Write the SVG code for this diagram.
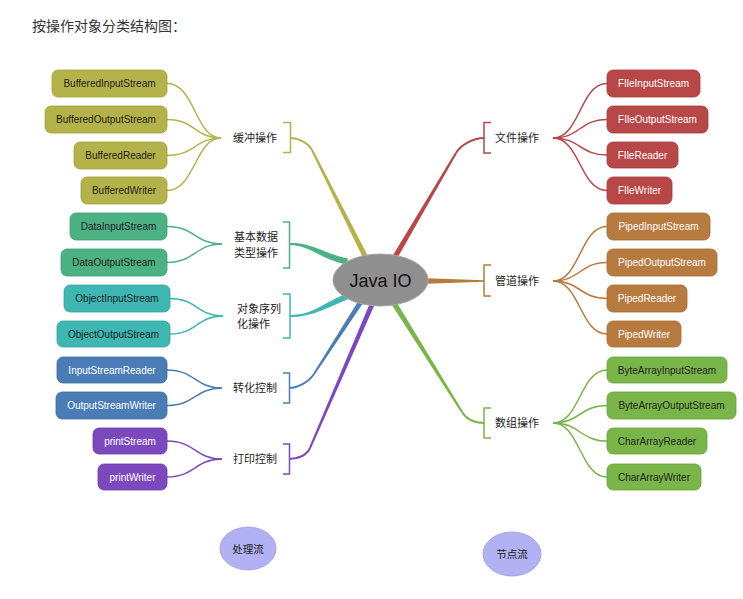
<svg xmlns="http://www.w3.org/2000/svg" width="743" height="599" viewBox="0 0 743 599">
<style>
.box{stroke-width:0.8}
.bt{font-family:"Liberation Sans",Arial,sans-serif;font-size:10px;text-anchor:middle}
.dk{fill:#1f1f1f}
.wt{fill:#ffffff}
.lb{font-family:"Noto Sans CJK SC","Liberation Sans",sans-serif;font-size:11px;fill:#222}
.thin{fill:none;stroke-width:1.5}
.br{fill:none;stroke-width:1.5}
.cv{fill:none;stroke-width:2}
.ol{fill:#b4b34a;stroke:#a3a23e}
.gr{fill:#4cb183;stroke:#3f9f73}
.tl{fill:#3eb6b1;stroke:#35a39e}
.bl{fill:#4a7cb5;stroke:#3f6da2}
.pu{fill:#7c48bd;stroke:#6c3ba9}
.rd{fill:#b84747;stroke:#a63c3c}
.bn{fill:#b77a3f;stroke:#a56c34}
.lg{fill:#79b548;stroke:#69a23c}
</style>
<rect width="743" height="599" fill="#ffffff"/>
<text x="32" y="31" font-family="Noto Sans CJK SC,Liberation Sans,sans-serif" font-size="14" fill="#333">按操作对象分类结构图：</text>

<g id="connectors">
  <!-- main branches -->
  <g id="branch-buffered">
    <path d="M370.4,260.8 L312.9,149.6 L311.1,150.4 L365.6,263.2 Z" fill="#b4b34a"/>
    <path class="cv" d="M312,150 C308.4,142.8 298,138 291,138" stroke="#b4b34a"/>
  </g>
  <g id="branch-file">
    <path d="M394.3,263.4 L456.9,153.5 L455.1,152.5 L389.7,260.6 Z" fill="#b84747"/>
    <path class="cv" d="M456,153 C460,146 472,138 484,138" stroke="#b84747"/>
  </g>
  <g id="branch-data">
    <path d="M289,243 C312,242 322,253 348,258.5 L346,264.5 C320,259 310,245 289,245 Z" fill="#4cb183"/>
  </g>
  <g id="branch-object">
    <path d="M290,315 C312,315 322,304 345,294 L347.5,299.5 C324,309 312,317 290,317 Z" fill="#3eb6b1"/>
  </g>
  <g id="branch-convert">
    <path d="M364.1,301.4 L314.8,374.5 L313.2,373.5 L359.9,298.6 Z" fill="#4a7cb5"/>
    <path class="cv" d="M314,374 C309.1,381.6 298,388 289,388" stroke="#4a7cb5"/>
  </g>
  <g id="branch-print">
    <path d="M376.3,301 L310.9,448.4 L309.1,447.6 L371.7,299 Z" fill="#7c48bd"/>
    <path class="cv" d="M310,448 C306.8,455.3 298,459 289,459" stroke="#7c48bd"/>
  </g>
  <g id="branch-array">
    <path d="M394.3,298.6 L462.9,411.5 L461.1,412.5 L389.7,301.4 Z" fill="#79b548"/>
    <path class="cv" d="M462,412 C466.2,418.8 474,423 484,423" stroke="#79b548"/>
  </g>
  <g id="branch-piped">
    <path d="M420,278 L484,280.3 L484,281.7 L420,284 Z" fill="#b77a3f"/>
  </g>

  <!-- brackets -->
  <path class="br" d="M283,122.5 H290.5 V152.5 H283" stroke="#b4b34a"/>
  <path class="br" d="M283,222 H289.5 V268 H283" stroke="#4cb183"/>
  <path class="br" d="M283,294 H290 V338 H283" stroke="#3eb6b1"/>
  <path class="br" d="M283,373 H289.5 V403 H283" stroke="#4a7cb5"/>
  <path class="br" d="M283,444 H289.5 V474 H283" stroke="#7c48bd"/>
  <path class="br" d="M491,122.5 H484 V153 H491" stroke="#b84747"/>
  <path class="br" d="M491,265 H484 V296 H491" stroke="#b77a3f"/>
  <path class="br" d="M491,408 H484 V438 H491" stroke="#79b548"/>

  <!-- thin connectors left -->
  <g stroke="#b4b34a" class="thin">
    <path class="thin" d="M167,83.5 C195,83.5 195,138 221,138"/>
    <path class="thin" d="M167,119.5 C195,119.5 195,138 221,138"/>
    <path class="thin" d="M167,155.5 C195,155.5 195,138 221,138"/>
    <path class="thin" d="M167,190.5 C195,190.5 195,138 221,138"/>
  </g>
  <g stroke="#4cb183">
    <path class="thin" d="M167,226.5 C195,226.5 195,244 222,244"/>
    <path class="thin" d="M167,262.5 C195,262.5 195,244 222,244"/>
  </g>
  <g stroke="#3eb6b1">
    <path class="thin" d="M170,298.5 C197,298.5 197,316 223,316"/>
    <path class="thin" d="M170,334 C197,334 197,316 223,316"/>
  </g>
  <g stroke="#4a7cb5">
    <path class="thin" d="M167,370 C195,370 195,388 222,388"/>
    <path class="thin" d="M167,405.5 C195,405.5 195,388 222,388"/>
  </g>
  <g stroke="#7c48bd">
    <path class="thin" d="M167,441 C195,441 195,459 222,459"/>
    <path class="thin" d="M167,477 C195,477 195,459 222,459"/>
  </g>
  <!-- thin connectors right -->
  <g stroke="#b84747">
    <path class="thin" d="M553,138 C580,138 580,83.5 607,83.5"/>
    <path class="thin" d="M553,138 C580,138 580,119.5 607,119.5"/>
    <path class="thin" d="M553,138 C580,138 580,155 607,155"/>
    <path class="thin" d="M553,138 C580,138 580,190.5 607,190.5"/>
  </g>
  <g stroke="#b77a3f">
    <path class="thin" d="M553,281 C580,281 580,226.5 607,226.5"/>
    <path class="thin" d="M553,281 C580,281 580,262.5 607,262.5"/>
    <path class="thin" d="M553,281 C580,281 580,298.5 607,298.5"/>
    <path class="thin" d="M553,281 C580,281 580,334 607,334"/>
  </g>
  <g stroke="#79b548">
    <path class="thin" d="M553,423 C580,423 580,370 607,370"/>
    <path class="thin" d="M553,423 C580,423 580,405.5 607,405.5"/>
    <path class="thin" d="M553,423 C580,423 580,441 607,441"/>
    <path class="thin" d="M553,423 C580,423 580,477 607,477"/>
  </g>
</g>

<g id="root">
  <ellipse cx="380.5" cy="280" rx="47.5" ry="26" fill="#8f8f8f" stroke="#a6a6a6" stroke-width="1"/>
  <text x="380.5" y="286.5" font-family="Liberation Sans,Arial,sans-serif" font-size="18" fill="#111" text-anchor="middle">Java IO</text>
</g>

<!-- category labels -->
<g id="cat-buffered"><text class="lb" x="233" y="142">缓冲操作</text></g>
<g id="cat-data"><text class="lb" x="234" y="241">基本数据</text><text class="lb" x="234" y="257">类型操作</text></g>
<g id="cat-object"><text class="lb" x="237" y="313">对象序列</text><text class="lb" x="237" y="328">化操作</text></g>
<g id="cat-convert"><text class="lb" x="233" y="392">转化控制</text></g>
<g id="cat-print"><text class="lb" x="233" y="463">打印控制</text></g>
<g id="cat-file"><text class="lb" x="495" y="142">文件操作</text></g>
<g id="cat-piped"><text class="lb" x="495" y="285">管道操作</text></g>
<g id="cat-array"><text class="lb" x="495" y="427">数组操作</text></g>

<!-- left boxes -->
<g id="n-BufferedInputStream"><rect class="box ol" x="52" y="70" width="115" height="27" rx="6"/><text class="bt dk" x="109.5" y="87">BufferedInputStream</text></g>
<g id="n-BufferedOutputStream"><rect class="box ol" x="45" y="106" width="122" height="27" rx="6"/><text class="bt dk" x="106" y="123">BufferedOutputStream</text></g>
<g id="n-BufferedReader"><rect class="box ol" x="74" y="142" width="93" height="27" rx="6"/><text class="bt dk" x="120.5" y="159">BufferedReader</text></g>
<g id="n-BufferedWriter"><rect class="box ol" x="81" y="177" width="86" height="27" rx="6"/><text class="bt dk" x="124" y="194">BufferedWriter</text></g>

<g id="n-DataInputStream"><rect class="box gr" x="70" y="213" width="97" height="27" rx="6"/><text class="bt dk" x="118.5" y="230">DataInputStream</text></g>
<g id="n-DataOutputStream"><rect class="box gr" x="61" y="249" width="106" height="27" rx="6"/><text class="bt dk" x="114" y="266">DataOutputStream</text></g>

<g id="n-ObjectInputStream"><rect class="box tl" x="64" y="285" width="106" height="27" rx="6"/><text class="bt dk" x="117" y="302">ObjectInputStream</text></g>
<g id="n-ObjectOutputStream"><rect class="box tl" x="57" y="321" width="113" height="26" rx="6"/><text class="bt dk" x="113.5" y="337.5">ObjectOutputStream</text></g>

<g id="n-InputStreamReader"><rect class="box bl" x="57" y="357" width="110" height="26" rx="6"/><text class="bt wt" x="112" y="373.5">InputStreamReader</text></g>
<g id="n-OutputStreamWriter"><rect class="box bl" x="56" y="392" width="111" height="27" rx="6"/><text class="bt wt" x="111.5" y="409">OutputStreamWriter</text></g>

<g id="n-printStream"><rect class="box pu" x="93" y="428" width="74" height="26" rx="6"/><text class="bt wt" x="130" y="444.5">printStream</text></g>
<g id="n-printWriter"><rect class="box pu" x="98" y="464" width="69" height="26" rx="6"/><text class="bt wt" x="132.5" y="480.5">printWriter</text></g>

<!-- right boxes -->
<g id="n-FIleInputStream"><rect class="box rd" x="607" y="70" width="93" height="27" rx="6"/><text class="bt wt" x="653.5" y="87">FIleInputStream</text></g>
<g id="n-FIleOutputStream"><rect class="box rd" x="607" y="106" width="101" height="27" rx="6"/><text class="bt wt" x="657.5" y="123">FIleOutputStream</text></g>
<g id="n-FIleReader"><rect class="box rd" x="607" y="142" width="71" height="26" rx="6"/><text class="bt wt" x="642.5" y="158.5">FIleReader</text></g>
<g id="n-FIleWriter"><rect class="box rd" x="607" y="177" width="65" height="27" rx="6"/><text class="bt wt" x="639.5" y="194">FIleWriter</text></g>

<g id="n-PipedInputStream"><rect class="box bn" x="607" y="213" width="103" height="27" rx="6"/><text class="bt wt" x="658.5" y="230">PipedInputStream</text></g>
<g id="n-PipedOutputStream"><rect class="box bn" x="607" y="249" width="110" height="27" rx="6"/><text class="bt wt" x="662" y="266">PipedOutputStream</text></g>
<g id="n-PipedReader"><rect class="box bn" x="607" y="285" width="80" height="27" rx="6"/><text class="bt wt" x="647" y="302">PipedReader</text></g>
<g id="n-PipedWriter"><rect class="box bn" x="607" y="321" width="74" height="26" rx="6"/><text class="bt wt" x="644" y="337.5">PipedWriter</text></g>

<g id="n-ByteArrayInputStream"><rect class="box lg" x="607" y="357" width="120" height="26" rx="6"/><text class="bt dk" x="667" y="373.5">ByteArrayInputStream</text></g>
<g id="n-ByteArrayOutputStream"><rect class="box lg" x="607" y="392" width="129" height="27" rx="6"/><text class="bt dk" x="671.5" y="409">ByteArrayOutputStream</text></g>
<g id="n-CharArrayReader"><rect class="box lg" x="607" y="428" width="100" height="26" rx="6"/><text class="bt dk" x="657" y="444.5">CharArrayReader</text></g>
<g id="n-CharArrayWriter"><rect class="box lg" x="607" y="464" width="94" height="26" rx="6"/><text class="bt dk" x="654" y="480.5">CharArrayWriter</text></g>

<!-- legend circles -->
<g id="n-processing">
  <ellipse cx="248" cy="548.5" rx="28" ry="21.5" fill="#b1b1f4" stroke="#9b9be0" stroke-width="0.8"/>
  <text x="248" y="552.5" font-family="Noto Sans CJK SC,Liberation Sans,sans-serif" font-size="10.5" fill="#222" text-anchor="middle">处理流</text>
</g>
<g id="n-node">
  <ellipse cx="512" cy="554" rx="29" ry="22" fill="#b1b1f4" stroke="#9b9be0" stroke-width="0.8"/>
  <text x="512" y="558" font-family="Noto Sans CJK SC,Liberation Sans,sans-serif" font-size="10.5" fill="#222" text-anchor="middle">节点流</text>
</g>
</svg>
